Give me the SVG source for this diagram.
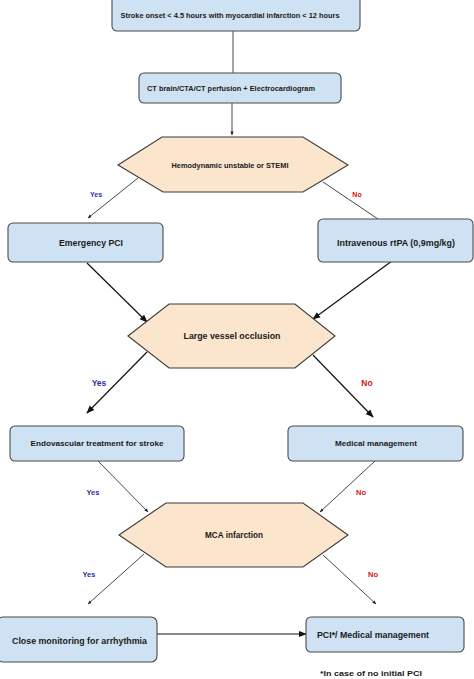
<svg xmlns="http://www.w3.org/2000/svg" width="474" height="679" viewBox="0 0 474 679">
<defs>
<marker id="ahS" viewBox="0 0 10 10" refX="9" refY="5" markerWidth="4" markerHeight="4" orient="auto" markerUnits="userSpaceOnUse"><path d="M0,1 L10,5 L0,9 z" fill="#222"/></marker>
<marker id="ahL" viewBox="0 0 10 10" refX="9" refY="5" markerWidth="8" markerHeight="8" orient="auto" markerUnits="userSpaceOnUse"><path d="M0,1 L10,5 L0,9 z" fill="#111"/></marker>
</defs>
<style>
.box{fill:#cfe2f3;stroke:#4a4a4a;stroke-width:1.1}
.hex{fill:#fce5cd;stroke:#3a3a3a;stroke-width:1.1}
.t{font-family:"Liberation Sans",Arial,sans-serif;font-weight:bold;fill:#1a1a1a;text-anchor:middle}
.ln{stroke:#4a4a4a;stroke-width:1;fill:none}
.lnd{stroke:#111;stroke-width:1.2;fill:none}
.yes{font-family:"Liberation Sans",Arial,sans-serif;font-weight:bold;fill:#2e2e9e;text-anchor:middle}
.no{font-family:"Liberation Sans",Arial,sans-serif;font-weight:bold;fill:#d01515;text-anchor:middle}
</style>
<rect width="474" height="679" fill="#ffffff"/>
<g id="connectors">
<line class="ln" x1="233" y1="31" x2="233" y2="73"/>
<line class="ln" x1="232" y1="103" x2="232" y2="135" marker-end="url(#ahS)"/>
<line class="ln" x1="138" y1="178" x2="88" y2="218" marker-end="url(#ahS)"/>
<line class="ln" x1="323" y1="182" x2="378" y2="219"/>
<line class="lnd" x1="87" y1="263" x2="147" y2="322" marker-end="url(#ahL)"/>
<line class="lnd" x1="396" y1="258" x2="313" y2="319" marker-end="url(#ahL)"/>
<line class="lnd" x1="147" y1="352" x2="87" y2="413" marker-end="url(#ahL)"/>
<line class="lnd" x1="313" y1="355" x2="373" y2="417" marker-end="url(#ahL)"/>
<line class="ln" x1="98" y1="461" x2="148" y2="512" marker-end="url(#ahS)"/>
<line class="ln" x1="375" y1="461" x2="320" y2="512" marker-end="url(#ahS)"/>
<line class="ln" x1="144" y1="554" x2="88" y2="604" marker-end="url(#ahS)"/>
<line class="ln" x1="323" y1="555" x2="376" y2="604" marker-end="url(#ahS)"/>
<line class="lnd" x1="157" y1="634" x2="306" y2="634" marker-end="url(#ahL)"/>
<text class="yes" x="96" y="197" font-size="7">Yes</text>
<text class="no" x="357" y="197" font-size="7">No</text>
<text class="yes" x="99" y="386" font-size="8.5">Yes</text>
<text class="no" x="367" y="386" font-size="8.5">No</text>
<text class="yes" x="93" y="495" font-size="7.5">Yes</text>
<text class="no" x="361" y="495" font-size="7.5">No</text>
<text class="yes" x="89" y="577" font-size="7.5">Yes</text>
<text class="no" x="373" y="577" font-size="7.5">No</text>
</g>
<g id="n-onset">
<rect class="box" x="112" y="-4" width="248" height="35" rx="5"/>
<text class="t" x="230" y="17.5" font-size="7" textLength="219" lengthAdjust="spacingAndGlyphs">Stroke onset &lt; 4.5 hours with myocardial infarction &lt; 12 hours</text>
</g>
<g id="n-ct">
<rect class="box" x="139" y="73" width="202" height="30" rx="5"/>
<text class="t" x="231" y="90.5" font-size="7" textLength="168" lengthAdjust="spacingAndGlyphs">CT brain/CTA/CT perfusion + Electrocardiogram</text>
</g>
<g id="n-hemo">
<polygon class="hex" points="118,165 162,137 303,137 348,165 303,192 163,192"/>
<text class="t" x="230" y="167.5" font-size="7" textLength="117" lengthAdjust="spacingAndGlyphs">Hemodynamic unstable or STEMI</text>
</g>
<g id="n-pci">
<rect class="box" x="8" y="223" width="155" height="39" rx="5"/>
<text class="t" x="91" y="246" font-size="8.7" textLength="64" lengthAdjust="spacingAndGlyphs">Emergency PCI</text>
</g>
<g id="n-rtpa">
<rect class="box" x="318" y="219" width="155" height="43" rx="5"/>
<text class="t" x="396" y="246" font-size="8.3" textLength="118" lengthAdjust="spacingAndGlyphs">Intravenous rtPA (0,9mg/kg)</text>
</g>
<g id="n-lvo">
<polygon class="hex" points="128,336 169,304 295,304 335,336 295,368 169,368"/>
<text class="t" x="232" y="339" font-size="8.8" textLength="97" lengthAdjust="spacingAndGlyphs">Large vessel occlusion</text>
</g>
<g id="n-evt">
<rect class="box" x="10" y="426" width="174" height="35" rx="5"/>
<text class="t" x="97" y="445.5" font-size="7.2" textLength="133" lengthAdjust="spacingAndGlyphs">Endovascular treatment for stroke</text>
</g>
<g id="n-med">
<rect class="box" x="288" y="426" width="175" height="35" rx="5"/>
<text class="t" x="376" y="445.5" font-size="7.2" textLength="82" lengthAdjust="spacingAndGlyphs">Medical management</text>
</g>
<g id="n-mca">
<polygon class="hex" points="119,535 166,503 303,503 348,535 303,567 166,567"/>
<text class="t" x="234" y="538" font-size="8.2" textLength="58" lengthAdjust="spacingAndGlyphs">MCA infarction</text>
</g>
<g id="n-monitor">
<rect class="box" x="-3" y="617" width="160" height="45" rx="6"/>
<text class="t" x="79.5" y="644" font-size="8.2" textLength="135" lengthAdjust="spacingAndGlyphs">Close monitoring for arrhythmia</text>
</g>
<g id="n-pcimed">
<rect class="box" x="306" y="617" width="158" height="35" rx="5"/>
<text class="t" x="317" y="638" font-size="8.2" style="text-anchor:start" textLength="112" lengthAdjust="spacingAndGlyphs">PCI*/ Medical management</text>
</g>
<text class="t" x="320" y="675.5" font-size="8" style="text-anchor:start" textLength="102" lengthAdjust="spacingAndGlyphs">*In case of no initial PCI</text>
</svg>
